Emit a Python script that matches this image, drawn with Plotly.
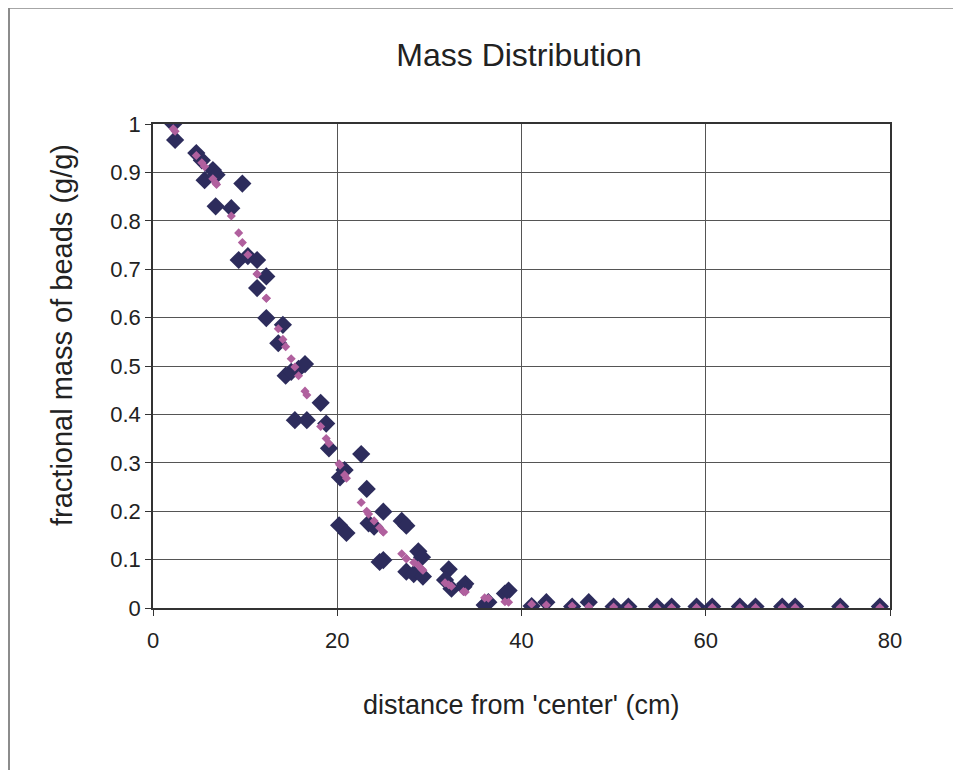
import plotly.graph_objects as go

# measured data (navy diamonds)
distance_cm = [2.2, 2.4, 4.7, 5.3, 5.6, 6.5, 6.9, 6.8, 8.5, 9.7,
               9.3, 10.3, 11.3, 12.3, 11.3, 12.3, 14.1, 13.6, 14.4, 15.0,
               15.8, 16.5, 18.2, 15.4, 16.7, 18.8, 19.1, 22.6, 20.3, 20.8,
               23.2, 20.2, 21.0, 25.0, 23.4, 24.0, 27.0, 27.5, 25.0, 24.6,
               28.8, 29.2, 27.5, 28.3, 29.3, 32.1, 31.7, 32.4, 33.9, 33.7,
               36.0, 36.4, 38.2, 38.6, 41.1, 42.7, 45.5, 47.3, 50.0, 51.6,
               54.7, 56.3, 59.0, 60.7, 63.7, 65.4, 68.3, 69.7, 74.6, 78.9]
measured_fraction = [1.0, 0.967, 0.94, 0.925, 0.884, 0.905, 0.895, 0.83, 0.826, 0.877,
                     0.719, 0.727, 0.719, 0.685, 0.661, 0.599, 0.585, 0.547, 0.48, 0.488,
                     0.494, 0.504, 0.424, 0.388, 0.388, 0.381, 0.33, 0.318, 0.27, 0.285,
                     0.246, 0.171, 0.155, 0.199, 0.175, 0.168, 0.18, 0.17, 0.099, 0.095,
                     0.117, 0.105, 0.075, 0.07, 0.065, 0.08, 0.058, 0.04, 0.05, 0.044,
                     0.006, 0.012, 0.03, 0.036, 0.004, 0.012, 0.003, 0.012, 0.003, 0.003,
                     0.003, 0.003, 0.003, 0.003, 0.003, 0.003, 0.003, 0.003, 0.003, 0.003]
# fitted curve values (pink diamonds) at the same distances
fit_fraction = [0.99, 0.985, 0.935, 0.92, 0.912, 0.887, 0.875, 0.878, 0.81, 0.755,
                0.775, 0.73, 0.69, 0.64, 0.69, 0.64, 0.555, 0.577, 0.54, 0.515,
                0.48, 0.448, 0.375, 0.498, 0.44, 0.35, 0.34, 0.218, 0.295, 0.275,
                0.2, 0.298, 0.268, 0.157, 0.194, 0.18, 0.112, 0.102, 0.157, 0.166,
                0.088, 0.08, 0.102, 0.094, 0.078, 0.048, 0.052, 0.045, 0.033, 0.034,
                0.021, 0.02, 0.013, 0.012, 0.008, 0.006, 0.004, 0.003, 0.002, 0.002,
                0.001, 0.001, 0.001, 0.001, 0.001, 0.001, 0.001, 0.001, 0.001, 0.001]

x_ticks = [0, 20, 40, 60, 80]
y_ticks = [0, 0.1, 0.2, 0.3, 0.4, 0.5, 0.6, 0.7, 0.8, 0.9, 1]
y_tick_text = ["0", "0.1", "0.2", "0.3", "0.4", "0.5", "0.6", "0.7", "0.8", "0.9", "1"]

FONT = "Liberation Sans, Arial, sans-serif"
NAVY = "#2d2c5c"
PINK = "#b0609e"
GRID = "#555555"
TXT = "#222222"

fig = go.Figure()
fig.add_trace(go.Scatter(x=distance_cm, y=measured_fraction, mode="markers",
                         marker=dict(symbol="diamond", size=14, color=NAVY),
                         showlegend=False))
fig.add_trace(go.Scatter(x=distance_cm, y=fit_fraction, mode="markers",
                         marker=dict(symbol="diamond", size=7, color=PINK),
                         showlegend=False))

# page offset of the figure inside the browser (body margin)
OFF = 8
W, H = 961, 770
# target page positions of plot area
PL, PR, PT, PB = 153, 890, 124, 608
L = PL - OFF
T = PT - OFF
R = W - (PR - OFF)
B = H - (PB - OFF)
pw, ph = W - L - R, H - T - B

def px_x(p):
    return (p - OFF - L) / pw

def px_y(p):
    return (H - B - (p - OFF)) / ph

fig.update_layout(
    width=W, height=H,
    margin=dict(l=L, r=R, t=T, b=B),
    paper_bgcolor="white", plot_bgcolor="white",
    font=dict(family=FONT, color=TXT),
    title=dict(text="Mass Distribution", x=px_x(519), xref="paper", xanchor="center",
               y=1 - (55 - OFF) / H, yanchor="middle", font=dict(size=32, family=FONT, color=TXT)),
    xaxis=dict(range=[0, 80], tickvals=x_ticks, ticktext=[str(v) for v in x_ticks],
               showgrid=True, gridcolor=GRID, gridwidth=1,
               showline=True, linecolor="#333333", linewidth=1.5, mirror=True,
               ticks="outside", ticklen=6, tickcolor="#333333",
               tickfont=dict(size=22, family=FONT, color=TXT),
               ticklabelstandoff=6, zeroline=False),
    yaxis=dict(range=[0, 1], tickvals=y_ticks, ticktext=y_tick_text,
               showgrid=True, gridcolor=GRID, gridwidth=1,
               showline=True, linecolor="#333333", linewidth=1.5, mirror=True,
               ticks="outside", ticklen=6, tickcolor="#333333",
               tickfont=dict(size=22, family=FONT, color=TXT),
               zeroline=False),
    annotations=[
        dict(text="fractional mass of beads (g/g)", x=px_x(62), y=px_y(335), xref="paper", yref="paper",
             textangle=-90, showarrow=False, xanchor="center", yanchor="middle",
             font=dict(size=29, family=FONT, color=TXT)),
        dict(text="distance from 'center' (cm)", x=px_x(521), y=px_y(705), xref="paper", yref="paper",
             showarrow=False, xanchor="center", yanchor="middle",
             font=dict(size=27, family=FONT, color=TXT)),
    ],
    shapes=[
        dict(type="line", xref="paper", yref="paper", x0=px_x(9), x1=px_x(9), y0=px_y(7), y1=px_y(775),
             line=dict(color="#666666", width=1.5)),
        dict(type="line", xref="paper", yref="paper", x0=px_x(9), x1=px_x(965), y0=px_y(8), y1=px_y(8),
             line=dict(color="#888888", width=1.5)),
    ],
)

fig.write_html("out.html")
